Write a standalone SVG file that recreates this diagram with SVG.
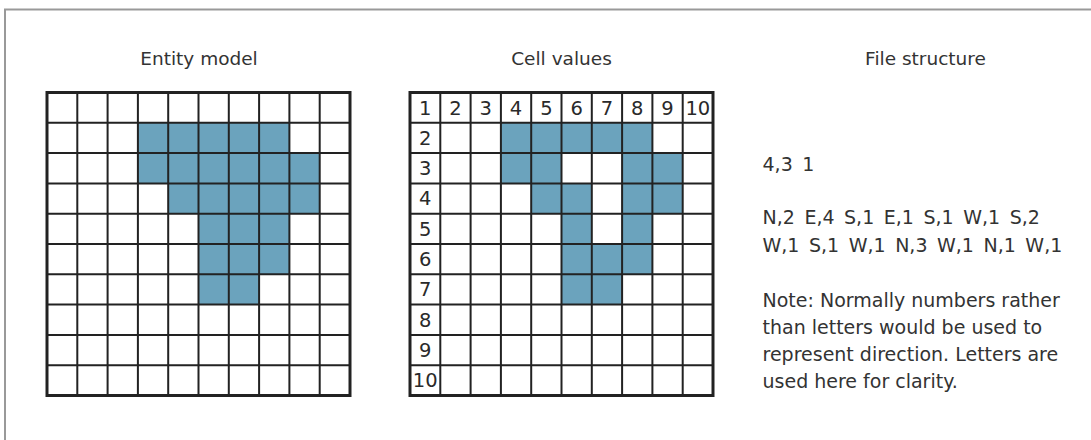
<svg xmlns="http://www.w3.org/2000/svg" width="1091" height="440" viewBox="0 0 1091 440">
<style>
.t{font-family:"DejaVu Sans","Liberation Sans",sans-serif;fill:#333;}
.title{font-size:18.5px;text-anchor:middle;}
.body{font-size:19px;}
.num{font-family:"DejaVu Sans","Liberation Sans",sans-serif;fill:#2a2a2a;font-size:19.5px;text-anchor:middle;}
.fill{fill:#6ba3bd;}
.inner{fill:none;stroke:#222;stroke-width:2;}
.outer{fill:none;stroke:#222;stroke-width:3;}
</style>
<rect width="1091" height="440" fill="#fff"/>
<g id="frame">
<path d="M5 440 V9.5 H1091" fill="none" stroke="#999" stroke-width="2"/>
</g>
<g id="entity-model">
<text class="t title" x="199" y="65">Entity model</text>
<g class="fill">
<rect x="137.9" y="122.8" width="151.5" height="30.3"/>
<rect x="137.9" y="153.1" width="181.8" height="30.3"/>
<rect x="168.2" y="183.4" width="151.5" height="30.3"/>
<rect x="198.5" y="213.7" width="90.9" height="30.3"/>
<rect x="198.5" y="244" width="90.9" height="30.3"/>
<rect x="198.5" y="274.3" width="60.6" height="30.3"/>
</g>
<path class="inner" d="M77.3 92.5V395.5M107.6 92.5V395.5M137.9 92.5V395.5M168.2 92.5V395.5M198.5 92.5V395.5M228.8 92.5V395.5M259.1 92.5V395.5M289.4 92.5V395.5M319.7 92.5V395.5M47 122.8H350M47 153.1H350M47 183.4H350M47 213.7H350M47 244H350M47 274.3H350M47 304.6H350M47 334.9H350M47 365.2H350"/>
<rect class="outer" x="47" y="92.5" width="303" height="303"/>
</g>
<g id="cell-values">
<text class="t title" x="561.5" y="65">Cell values</text>
<g class="fill">
<rect x="500.9" y="122.8" width="151.5" height="30.3"/>
<rect x="500.9" y="153.1" width="60.6" height="30.3"/>
<rect x="622.1" y="153.1" width="60.6" height="30.3"/>
<rect x="531.2" y="183.4" width="60.6" height="30.3"/>
<rect x="622.1" y="183.4" width="60.6" height="30.3"/>
<rect x="561.5" y="213.7" width="30.3" height="30.3"/>
<rect x="622.1" y="213.7" width="30.3" height="30.3"/>
<rect x="561.5" y="244" width="90.9" height="30.3"/>
<rect x="561.5" y="274.3" width="60.6" height="30.3"/>
</g>
<path class="inner" d="M440.3 92.5V395.5M470.6 92.5V395.5M500.9 92.5V395.5M531.2 92.5V395.5M561.5 92.5V395.5M591.8 92.5V395.5M622.1 92.5V395.5M652.4 92.5V395.5M682.7 92.5V395.5M410 122.8H713M410 153.1H713M410 183.4H713M410 213.7H713M410 244H713M410 274.3H713M410 304.6H713M410 334.9H713M410 365.2H713"/>
<rect class="outer" x="410" y="92.5" width="303" height="303"/>
<g class="num">
<text x="425.15" y="114.5">1</text>
<text x="455.45" y="114.5">2</text>
<text x="485.75" y="114.5">3</text>
<text x="516.05" y="114.5">4</text>
<text x="546.35" y="114.5">5</text>
<text x="576.65" y="114.5">6</text>
<text x="606.95" y="114.5">7</text>
<text x="637.25" y="114.5">8</text>
<text x="667.55" y="114.5">9</text>
<text x="697.85" y="114.5">10</text>
<text x="425.15" y="144.8">2</text>
<text x="425.15" y="175.1">3</text>
<text x="425.15" y="205.4">4</text>
<text x="425.15" y="235.7">5</text>
<text x="425.15" y="266">6</text>
<text x="425.15" y="296.3">7</text>
<text x="425.15" y="326.6">8</text>
<text x="425.15" y="356.9">9</text>
<text x="425.15" y="387.2">10</text>
</g>
</g>
<g id="file-structure">
<text class="t title" x="925.5" y="65">File structure</text>
<text class="t body" x="762.5" y="170.5" word-spacing="3.5">4,3 1</text>
<text class="t body" x="762.5" y="224" word-spacing="3.5">N,2 E,4 S,1 E,1 S,1 W,1 S,2</text>
<text class="t body" x="762.5" y="251.5" word-spacing="3.5">W,1 S,1 W,1 N,3 W,1 N,1 W,1</text>
<text class="t body" x="762.5" y="306.5">Note: Normally numbers rather</text>
<text class="t body" x="762.5" y="333.5">than letters would be used to</text>
<text class="t body" x="762.5" y="360.5">represent direction. Letters are</text>
<text class="t body" x="762.5" y="387.5">used here for clarity.</text>
</g>
</svg>
